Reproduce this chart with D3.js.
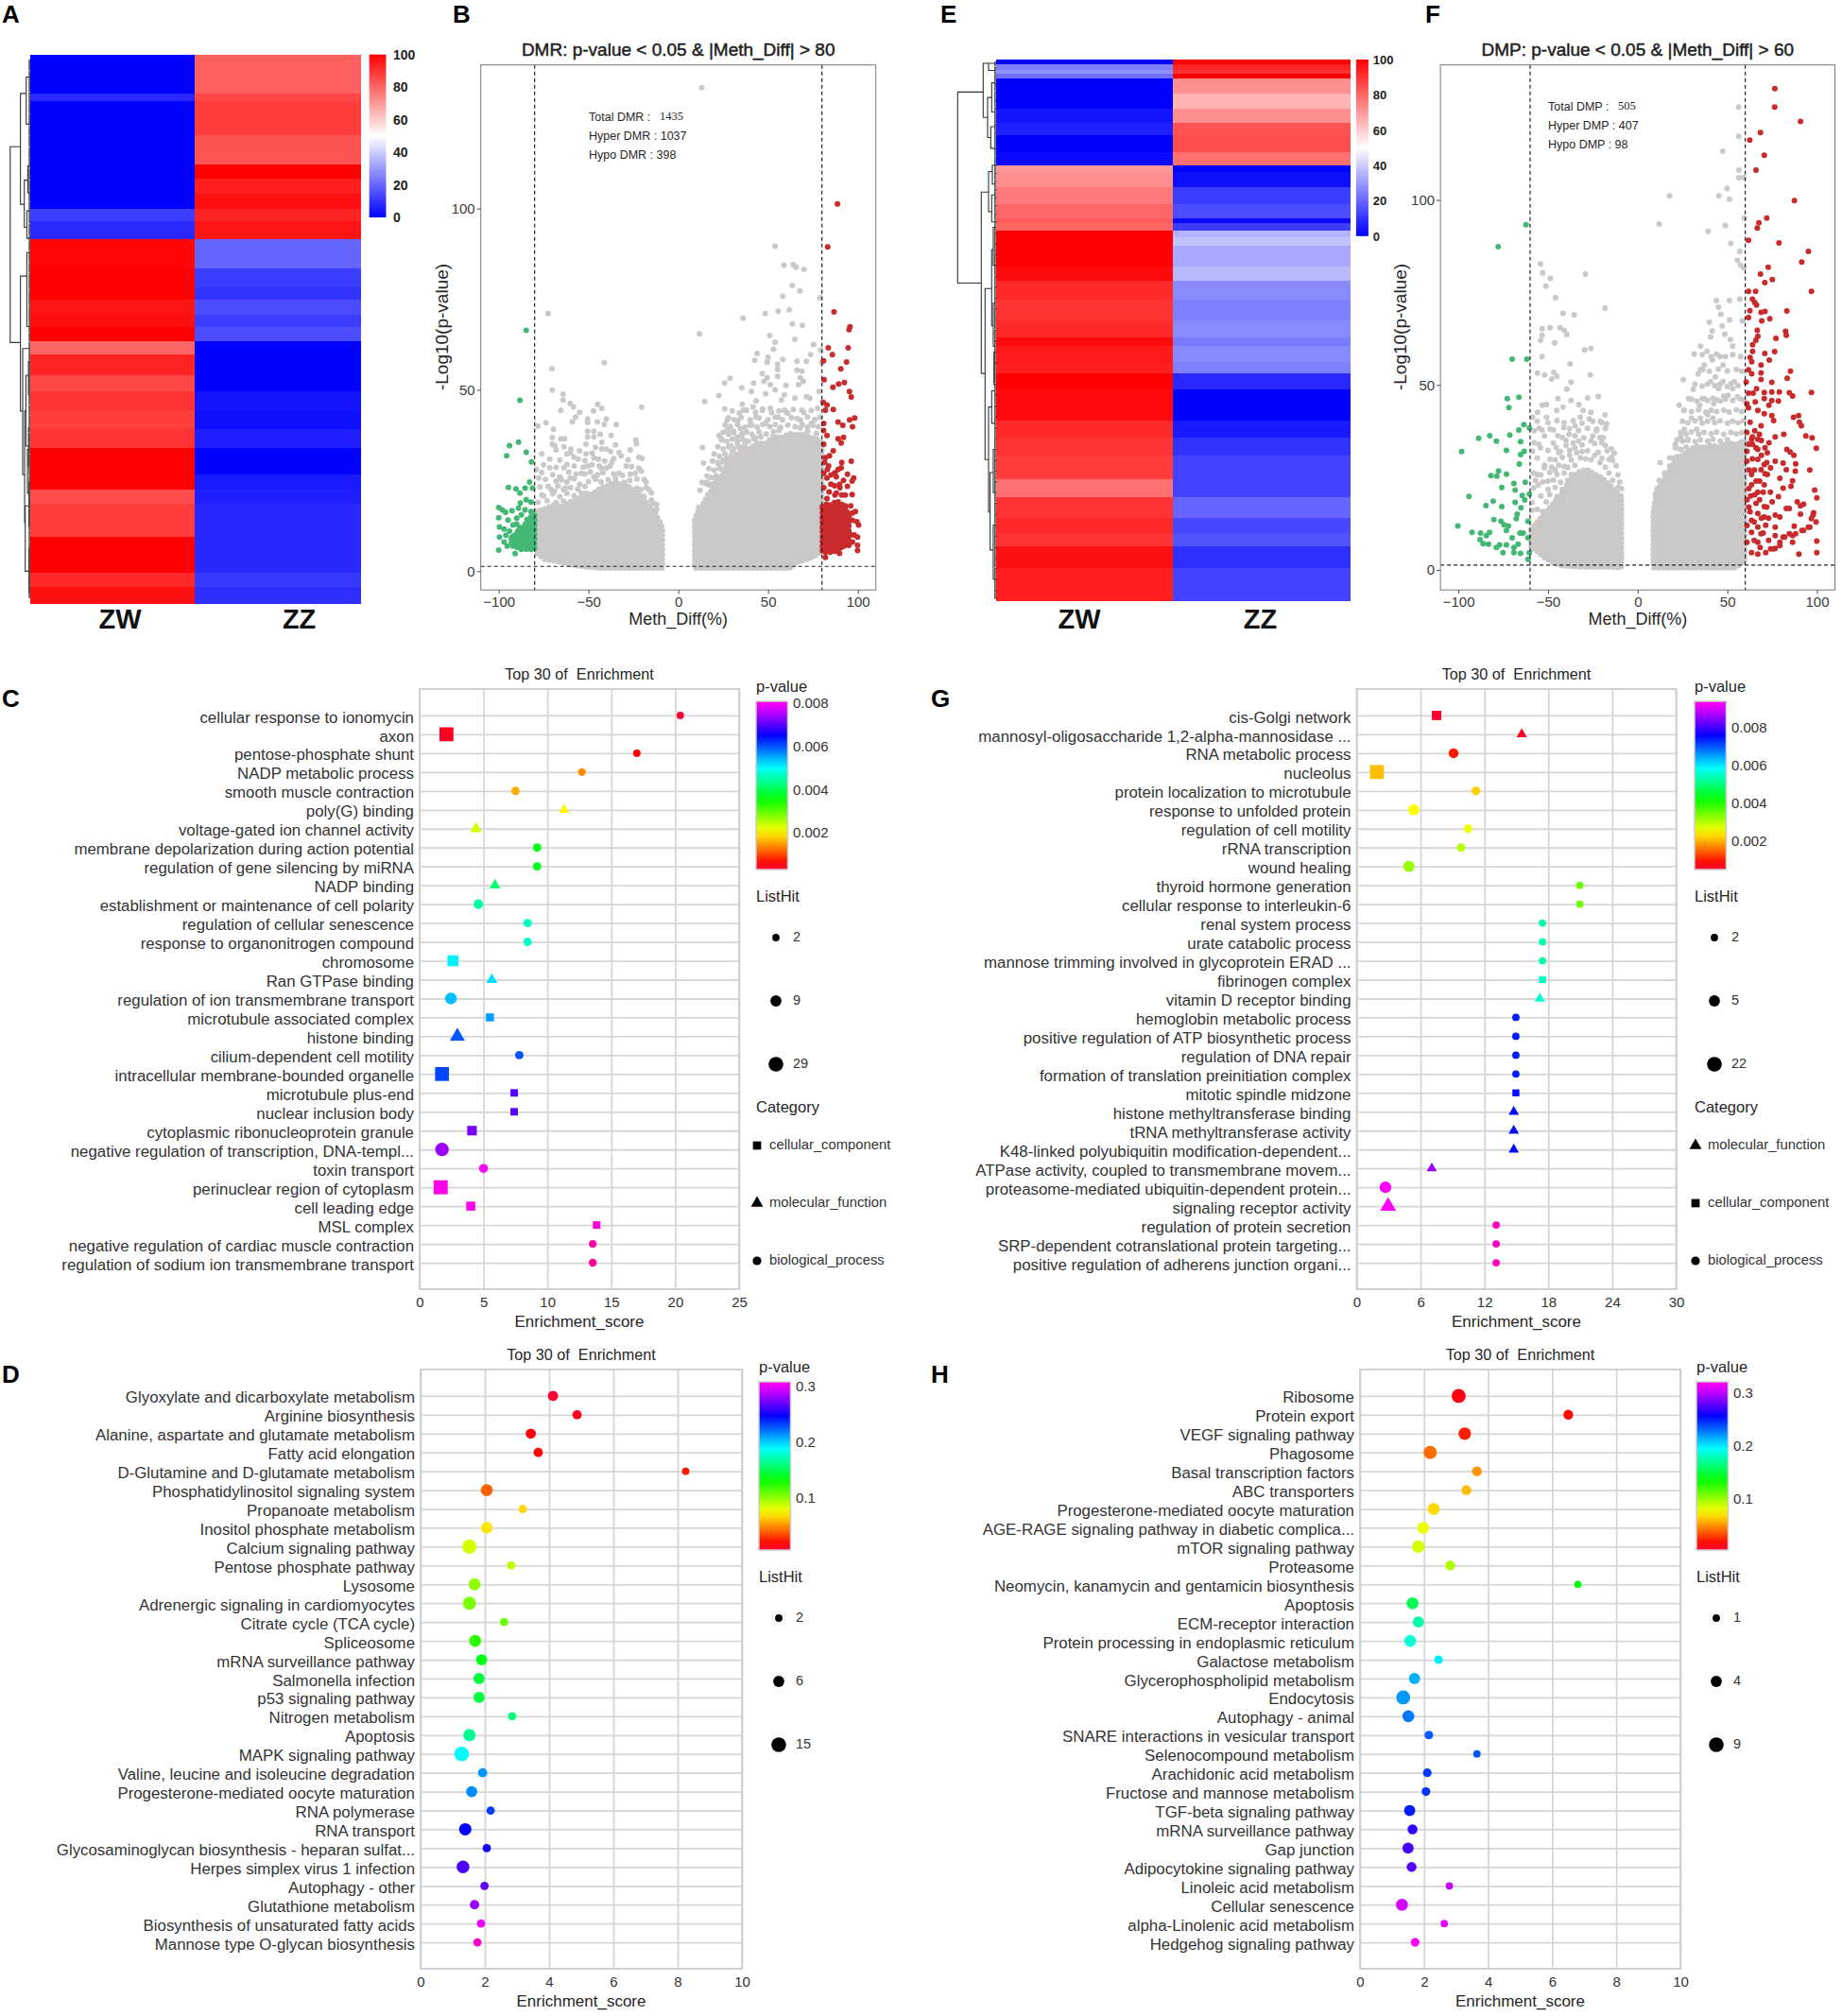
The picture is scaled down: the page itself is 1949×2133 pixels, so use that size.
<!DOCTYPE html>
<html>
<head>
<meta charset="utf-8">
<script src="https://cdn.jsdelivr.net/npm/d3@7"></script>
<style>
  body { margin: 0; background: #fff; }
  text { font-family: "Liberation Sans", Arial, sans-serif; fill: #262626; }
</style>
</head>
<body>
<svg id="chart" width="1949" height="2133"></svg>
<script>
// heatmap bands: rows in each band, mean methylation in ZW and ZZ
const heatRowsA = [94,18,82,70,35,35,37,28,45,70,45,30,35,30,35,30,50,40,45,45,45,65,35,35,80,85,35,38];
const heatZwA = [0,8,0,0,0,0,0,12,8,99,100,100,96,97,100,80,93,86,90,88,90,100,100,85,88,100,92,97];
const heatZzA = [81,86,88,84,100,94,97,93,96,20,12,10,15,12,15,0,0,0,4,3,6,0,5,6,8,8,11,9];
const heatRowsE = [12,13,10,11,36,35,35,30,40,33,14,38,40,35,10,18,17,20,50,35,45,50,40,20,40,27,38,75,40,45,55,45,50,35,32,53,78];
const heatZwE = [0,25,28,22,0,0,4,6,0,2,70,72,76,80,82,80,100,100,100,98,92,90,92,98,95,94,100,98,92,90,88,78,90,92,90,97,94];
const heatZzE = [100,93,90,100,72,65,72,84,85,78,0,3,12,15,2,12,35,38,33,36,27,25,27,24,27,25,8,0,5,10,13,13,20,14,16,9,13];
const heatTicks = [0,20,40,60,80,100];

// dendrogram merges: [height, rowA %, rowB %, child height A, child height B]
const mergesA = [
  [62,16.8,52.5,30,30],[30,7.1,27.3,12,18],[12,4.1,12.7,2,2],[18,22.9,31.5,7,10],[7,20.3,25.2,1,1],
  [10,28.5,33.5,2,2],[30,40.4,65,10,23],[10,36.1,49.6,1,1],[23,53.6,76.6,1,17],[17,65,85.3,13,15],
  [13,58.5,71.4,5,5],[5,56,62,1,1],[5,68,75,1,1],[15,82.3,94.2,3,3],[3,78,86,1,1],[3,90,98,1,1],[8,72,80,2,2]
];
const leafRowsA = [1,3,5,7,9,11,13,15,17,19,21,23,25,27,29,31,33,34,36,38,40,43,46,49,51,52.5,54,56,58,60,62,64,66,68,69,71,73,75,77,79,81,83,85,87,89,91,93,95,97,99];
const mergesE = [
  [123,6,41.3,42,48],[42,.7,10.7,25,28],[25,.7,2,3,3],[28,7,14.4,15,18],[15,4.3,9.7,5,5],[18,12.4,16.4,5,5],
  [48,24.5,58,25,36],[25,20.7,28.1,13,15],[13,19.5,23,3,3],[15,25,30,5,5],[36,42.3,73.9,15,25],
  [15,35.1,49.2,10,10],[10,31,38,3,3],[10,45,53,3,3],[25,64.2,83.6,15,20],[15,61.2,67.2,5,5],[20,76.3,90.6,10,10],
  [10,72,80,3,3],[10,86,96,3,3],[8,54,60,3,3]
];
const leafRowsE = [.5,1.5,3,4.5,6,7.5,9,10.5,12,13.5,15,16.5,18,19.5,21,22.5,24,25.5,27,28.5,30,32,34,36,38,40,42,44,46,48,50,52,54,56,58,60,62,64,66,68,70,72,74,76,78,80,82,84,86,88,90,92,94,96,98,99.5];

// volcano B, values as [Meth_Diff, -log10 p]
const grayPointsB = [
  [13,133.3],[-72.5,71],[-41.2,57.5],[-70.4,55.8],[-70.2,49.9],[-64.2,48.8],[-64.2,47.2],[-60.2,46.3],[-58.4,45.3],[-54.9,43.8],[-65.4,44.3],[-57.2,42.5],[-59,41.2],
  [-47.2,44.2],[-44.9,46],[-42.6,44.9],[-20.4,45.2],[-50.5,42],[-50.5,41],[-45.1,41.2],[-40,42],[-41.2,40.5],[-34.6,40.4],[-78.2,40],[-73.7,40.9],[-69.5,39.1],
  [-50.5,38.6],[-47,38.6],[-43.5,37.7],[-37.4,37.4],[-50.5,37],[-47,37],[-70.2,36.8],[-65.4,36.5],[-63.3,36.5],[-70.2,35],[-68.8,34.6],[-63.7,34.3],[-51.4,35],[-42.6,35.5],
  [-23.7,36.2],[-23.3,35.1],[-35,34.8],[-26.8,33.4],[-59.8,33.7],[-46.1,34.1],[-42.6,33.7],[-37.7,33],[-76,32.3],[-62,32.3],[-71.6,30.9],[-55.8,30.9],[-51.4,32.3],[-44.4,30.9],
  [-31.8,31.8],[-20.2,31.1],[-77.7,25.7],[-71.6,28.5],[-63.7,28.5],[-60.2,25.7],[-50.5,29],[-40,28.5],[-26.8,26.7],[-20.6,27.6],[-19,25.3],[-72.5,23.4],[-63,22.9],[-16.3,22.5],[-23,22.9],[-12,18.3],
  [-58,29],[-54,27],[-47,26],[-44,29],[-37,30],[-33,27],[-29,29],[-66,26],[-69,22],[-76,21],[-79,28],[-55,24],[-30,24.5],
  [-68,33.4],[-60,32.6],[-55,33.2],[-48,32.5],[-40,33.6],[-33,32.7],[-66,30.6],[-58,31.4],[-52,30.5],[-47,31.2],[-41,30.4],[-36,31],[-28,30.7],[-22,31.4],
  [-75,29.3],[-68,28.6],[-62,29.4],[-53,28.7],[-48,29.3],[-43,28.4],[-38,29],[-26,28.8],[-22,28.4],[-76,27.2],[-70,26.6],[-61,27.3],[-57,26.7],[-52,26.8],[-49,27.4],[-45,26.6],[-42,27.2],[-36,26.8],[-31,26.4],[-24,27],[-74,25.3],[-68,24.8],[-65,25.2],[-62,24.6],[-58,25.4],[-50,24.7],[-46,25.3],[-43,24.6],[-39,25.2],[-35,25.6],[-27,25],[-23,25.4],[-18,24.6],
  [-77,23.2],[-71,22.6],[-67,23.4],[-64,22.5],[-60,23],[-56,22.6],[-52,23.3],[-21,22.5],[-18,23],[-15,21.6],[-75,20.7],[-70,21.3],[-66,20.5],[-62,21.4],[-58,20.8],[-54,21.5],[-19,20.6],[-15,19.6],[-78,19],[-73,19.4],[-68,18.9],[-64,19.3],[-60,19],[-14,18.8],[-12,17],
  [53.9,89.6],[58.8,84.4],[64,84.5],[65.6,83.8],[70,83.2],[63.5,78.8],[67.7,77.3],[58.2,75.8],[78.9,75.4],[55.6,71.7],[61.8,72.1],[48.4,71],[36,69.7],[63.5,68.2],[69.1,67.8],[11.8,65.4],[50.9,65],[64.9,63.9],[53.9,63.1],[75.3,62.5],[53,61.2],[79.3,60.9],
  [43.9,60],[73.7,59.7],[50,59],[42.5,58.1],[49.5,57.6],[58.2,58.4],[66.1,57.9],[71.4,57.9],[79.8,57.5],[55.3,57],[46.8,54.5],[55.3,55.6],[66.1,55.4],[68.8,55.1],[49.5,53.3],[47.7,52.3],[55.3,53.7],[67.9,53.3],[69.6,52.3],[28.8,53.2],[25.8,51.9],
  [41.9,51.9],[35.4,50.6],[51.2,51.4],[60,51.2],[67,51.4],[40.7,49.5],[22.6,48.4],[48.6,48.9],[53.9,50],[59.1,48.6],[71.4,48.1],[78.4,49.5],[14.7,46.8],[43.3,46.9],[57.4,47.2],[64.9,47.7],[73.2,47.7],[35.6,46],[25.8,44.7],[36.3,44.4],[41.6,45.3],[46.8,44.4],[51.2,44.9],[59.1,44.4],[68.8,44.4],[77.5,44.9],
  [43.3,42.5],[60.9,43.5],[66.1,42.1],[27.2,41.6],[33.2,41.6],[74,40.7],[48.6,40.7],[55.6,42.5],[34.6,39.3],[39.8,40.2],[27.5,39],[30.7,38.6],[22.6,37.4],[24,36.2],[32.8,36.9],[13.5,34.1],[29.3,34.6],[14,29.8],[26.7,30.9],[22.3,29.5],[20.5,25.7],[13.2,24.5],[16.1,24.5],[12.1,22.3],[11.4,17.6],
  [36,38],[30,33],[33,35],[28,28],[24,30],[17,21],[19,24],[42,36.5],[37,36],[72,38.5],[77,38],[68,39.5],
  [30,44.2],[34,43.6],[38,44.4],[43,43.8],[47,44.7],[52,43.7],[56,44.2],[60,43.9],[64,44.6],[70,43.7],[74,44.3],[28,42.3],[31,41.8],[35,42.4],[40,41.7],[45,42.2],[50,41.8],[54,42.4],[58,41.7],[63,42.3],[68,41.7],[72,42.5],[76,41.8],[79,42.4],
  [26,40.3],[29,39.8],[33,40.4],[37,39.7],[41,40.3],[44,39.7],[47,40.5],[51,39.8],[54,40.4],[57,39.6],[61,40.3],[65,39.8],[69,40.4],[72,39.7],[75,40.2],[78,39.8],[25,38.3],[28,37.7],[31,38.2],[35,37.6],[38,38.4],[41,37.7],[45,38.3],[49,37.8],[53,38.4],[56,38.8],
  [24,36.6],[27,35.8],[30,36.4],[33,35.7],[36,36.3],[39,35.8],[43,36.7],[46,37],[22,34.3],[25,33.7],[28,34.3],[31,33.7],[34,34.2],[37,34.6],[20,32.3],[23,31.7],[26,32.3],[29,31.6],[32,32.2],[19,30.4],[22,30],[25,30.5],[28,30],[17,28.3],[20,27.8],[23,28.3],[16,26.2],[18,25.8],[21,26.3],[15,24.2],[17,23.8],[19,23.2]
];
const greenPointsB = [
  [-84.7,66.4],[-88.2,47.1],[-94,34.6],[-89,35.6],[-95.6,31.8],[-84.7,32.8],[-81.8,30.1],[-94.6,23.1],[-90.4,22.7],[-85.3,22.9],[-82.8,24.6],[-88.2,21.5],[-81.2,22.9],[-84.7,19.7],[-82,19],
  [-100,17.5],[-98,16.9],[-96.2,16.2],[-92.6,16.6],[-89,17.4],[-85.3,16.9],[-82,16.4],[-100,14.7],[-94.8,14.1],[-90,14.6],[-87.4,15.5],[-81.2,14.6],[-99.6,12.2],[-97,11.6],[-92,12.7],[-99.6,9.4],[-96,9.9],[-92.6,9.4],[-100,5.8],[-95.3,6.9],[-90.9,4.8],[-87.4,6],[-92.3,7.6],[-83,6.2],
  [-88,18.8],[-90,13],[-86,12],[-83,13],[-94,11],[-97,8]
];
const redPointsB = [
  [88.6,101.3],[83.2,89.4],[86.7,71.5],[95.6,67.4],[95.1,66.6],[83.5,61.6],[94.6,61.6],[85.8,59.7],[80.9,58],[93.7,57.7],[90.5,55.8],[81.2,52.8],[86.1,50.7],[89.3,51.6],[92.5,52],[95.3,49.5],[96.3,48],[80.7,46.5],[82.8,45.8],[81.9,44.4],[86.3,44.6],[98.2,42.2],[95.4,41.7],[89,41.1],[91.6,40.2],[97,39.8],[81,40.7],[80.9,38.8],[82.8,37.4],[89,36.5],[92,36.9],[90.7,35.3],[86.3,33.2],[81,35],[81.9,31.3],[84.2,31.8],[96.3,30.3],[90.7,28.5],[97.7,25.7],[94.2,26.7],[87.2,27.1],[83.7,29],[82.8,25.7],[96.8,24.8],[81,23],[89.8,23.9],[94.2,23.4],[96.8,21.1],[82.8,20],[87.2,21],[98.6,16.4],[99.5,13.6],[100.4,12.7],[99.8,9.4],[99.8,7.1],[99.8,5.7],[89.8,4.9],[81.9,3.8],[95,7.1],[90.7,6.5],
  [91,30],[88,26],[92,25],[85,24],[91,21],[96,18],[93,18],[97,14],[94,12],[98,10],[81.5,30],[83,28],[85,26.5],[89,28],[87,23.5],[84,21.8],[90,23],[93,21],[88,21.5],[81,27],[95,15],[97,16],[96,10],[94,8.5],[97,8],[92.5,7]
];
const grayMassB = [
  [-79.5,16.5,5.2],[-74.2,17.2,3.2],[-69,18.3,2.8],[-65.4,17.6,2.4],[-60,19.2,1.8],[-56.7,19.6,1.5],[-52,21.5,1.2],[-47.9,21.2,1],[-43,23,.8],[-39.1,23.6,.8],[-35,24.6,.8],[-32.1,24,.8],[-28,23.6,.8],[-25.1,22.4,.8],[-21,20.8,.8],[-18.1,19.2,.8],[-15,17.6,.8],[-12.8,16,.8],[-10.2,13.6,.8],[-8.8,11.7,.8]
];
const grayMassB2 = [
  [9.1,14.1,.8],[11,16.6,.8],[13.5,18.3,.8],[16,20.8,.8],[18.8,22.5,.8],[21,25.2,.8],[24,26.2,.8],[27,29.6,.8],[31,30.6,.8],[35,33.4,.8],[39.8,33.8,.8],[44,35.4,.8],[48.6,35.2,.8],[53,37.2,.8],[57.4,36.8,.8],[62,38,.8],[66.1,37.6,2.4],[70,37.8,3],[73.2,36.8,3.5],[77,36.6,4.4],[80,35.4,5.2]
];
const greenMassB = [[-93,9,7],[-90,10.5,6.5],[-88,12.5,6.5],[-86,12,6.2],[-84,14.5,6],[-80,15.5,6]];
const redMassB = [[80.2,17.8,5.2],[83,18.6,5.2],[85.4,18.2,5.2],[88,19.4,5.6],[90.7,18.6,6.6],[93,17.6,7.2],[95,15.4,8]];

// volcano F
const grayPointsF = [
  [56.3,125.1],[56.3,117.2],[47.4,113.2],[56.5,108.1],[56.5,106],[59,106],[49.8,103.1],[45.3,101.1],[51.2,100.2],[17.8,101.1],[12,93.5],[48.9,93.1],[59.5,95.1],[39.3,91.5],[51.9,88.3],[56.9,86.1],[55.6,83.7],[57.4,82.4],[59.2,81.6],
  [-54.2,82.7],[-53,80.3],[-48.6,78.8],[-51.2,76.7],[-29.1,80],[-45.8,73.6],[-18.2,70.8],[-41.6,69.4],[-35.4,68.9],[-53.3,65.2],[-48.9,65.5],[-43.3,65.5],[-41,64.8],[-39.5,63.6],[-53.3,63.4],[-54.2,62.1],[-46.3,61.4],[-29.6,59.5],[-26.1,59.9],[-53.3,57.7],[-37.7,55.7],[-55.9,53.2],[-51.9,52.7],[-46.8,53.4],[-45.1,52.4],[-48,51.6],[-26.5,52.7],[-37.2,50.7],[-39.5,48.9],[-22,46.9],[-44.5,46.3],[-37.2,45.8],[-27.9,46.5],[-50.8,44.7],[-53.3,44.5],[-55.9,42.6],[-58.6,41.3],[-41.6,44],[-45.1,43.1],[-50.8,41.3],[-32.8,44.7],[-30.4,43.1],[-26.1,42.6],[-32,41.3],[-18.2,41.9],[-27,40.8],[-20.8,40.2],[-17.3,39.5],[-22.8,38.1],[-41.2,38.5],[-34.9,39],[-57.7,37.6],[-53.3,37.8],[-48.9,38.1],[-44.5,36.3],[-38.3,36.7],[-19.1,35.8],[-26.1,34.9],[-57.7,34.4],[-33,34.9],[-20,34.4],[-14.7,32.8],[-54.2,33],[-45.4,33],[-58.6,32.1],[-48.9,29.9],[-16,29.9],[-14.5,30.5],[-41,28],[-56,25.8],[-52,27.6],[-55.5,23],
  [-43,32],[-38,31],[-35,33],[-31,32],[-29,30],[-24,31],[-21,29],[-40,35],[-46,27],[-50,24],
  [-56,40.2],[-50,39.8],[-45,40.4],[-41,39.8],[-36,40.3],[-31,39.7],[-25,40.2],[-20,39.8],[-55,38.3],[-47,37.8],[-38,38.2],[-33,37.7],[-28,38.3],[-23,37.6],[-18,38.2],[-52,36.2],[-42,35.8],[-35,36.3],[-30,35.7],[-25,36.2],[-21,35.8],[-55,34],[-47,34.3],[-40,33.7],[-36,34.3],[-31,33.8],[-24,34.2],[-18,33.7],
  [-50,32.3],[-44,31.7],[-38,32.3],[-34,31.7],[-28,32.2],[-22,31.8],[-17,32.2],[-13,31.6],[-56,30.3],[-46,29.8],[-42,30.4],[-37,29.7],[-32,30.3],[-26,29.8],[-20,30.2],[-14,29.6],[-52,28.3],[-48,27.8],[-44,28.3],[-39,27.7],[-35,28.3],[-18,27.8],[-12,28.2],[-58,26.2],[-54,25.7],[-49,26.3],[-45,25.8],[-41,26.2],[-37,25.8],[-16,26.2],[-11,25.7],[-57,24.2],[-53,23.8],[-47,24.3],[-43,23.7],[-39,24.2],[-14,24.2],[-10,23.8],[-58,22.2],[-50,21.8],[-46,22.3],[-42,21.8],[-11,22.3],[-9,22],[-54,20],[-49,20.4],[-45,19.8],[-59,18.2],[-51,18.4],[-59,16.2],[-56,16.4],[-53,15.8],
  [25.4,51.4],[23.1,44.5],[12.6,29],[17.8,30.3],[21.4,33],[43.9,72.8],[45.1,71],[51.2,72.8],[57,73.2],[46.4,69.1],[51.2,67.6],[58.3,67.3],[40,67],[41.5,64.6],[47.1,65.9],[48.6,63.7],[40.7,63],[51.7,62.3],[35.1,60.5],[31.5,58.4],[38.6,59.1],[46,57.7],[53,60.5],[57.4,57.7],[37.1,55.4],[41.6,56.8],[47.6,55.4],[33.7,53],[36.3,54.1],[43.3,52.2],[47.6,50.9],[53.9,50.9],[31,48.8],[40.7,50.9],[45.2,49],[55.6,46.8],[28.4,46.3],[37.2,46.3],[25.7,43.1],[34.5,44.5],[42.4,44.9],[50.4,47.2],[59.1,45.9],
  [30,41],[33,38],[26,38],[28,35],[24,36],[39,42],[44,46],[48,47],[35,41],[21,34],[42,41],[53,49],
  [36,58.2],[41,57.6],[44,58.3],[49,57.7],[53,58.2],[35,54.2],[40,53.7],[45,54.3],[50,53.8],[55,54.2],[58,53.7],[32,50.2],[36,49.7],[39,50.3],[43,49.8],[46,50.2],[50,49.6],[52,50.4],[56,49.8],[30,46.2],[33,45.7],[36,46.3],[39,45.8],[42,46.4],[46,45.7],[49,46.2],[53,45.8],[57,46.3],
  [26,43.2],[30,42.8],[34,43.3],[38,42.7],[41,43.2],[44,42.8],[48,43.2],[51,42.7],[55,43.3],[58,42.8],[25,40.2],[28,39.8],[32,40.3],[36,39.7],[39,40.2],[43,39.8],[46,40.3],[50,39.7],[53,40.2],[56,39.8],[59,40.3],[24,37.2],[27,36.8],[30,37.3],[34,36.7],[37,37.2],[41,36.8],[44,37.3],[48,36.7],[52,37.2],[55,36.8],[58,37.2],
  [22,35.2],[25,34.8],[28,35.3],[32,34.7],[35,35.2],[39,34.8],[42,35.3],[46,34.8],[50,35.2],[21,33],[24,32.6],[27,33.2],[20,30.2],[23,29.8],[18,28.2],[21,27.8],[15,26.2],[17,25.8],[12,24.2],[14,23.8],[11,21.2],[10,20.6]
];
const greenPointsF = [
  [-62.3,93.3],[-77.8,87.4],[-70,57],[-61.8,57],[-72.7,46.3],[-66.2,46.7],[-71.8,43.9],[-63.5,39.3],[-60.4,38.4],[-66.3,37.8],[-71.3,36.5],[-82.5,36.3],[-88.7,35.6],[-78.8,34.8],[-65.3,34.7],[-98.2,32],[-73.2,32.3],[-63.3,32.1],[-65.3,31.2],[-66,28.6],[-77.6,26.8],[-73.2,25.9],[-78.5,25.4],[-81.8,25.5],[-69,23.4],[-62.7,23.7],[-75.8,22.3],[-68.3,21.6],[-60.4,20.5],[-94.1,19.9],[-64.4,20.1],[-63,18.9],[-80.6,18.6],[-68.3,18.3],[-84.6,17.4],[-75.8,17.1],[-65.1,16.8],[-67.2,15.1],[-67.7,13.9],[-80.2,13.6],[-76.2,13.2],[-61.2,13.2],[-100.3,11.9],[-74.5,12.2],[-72.1,11.9],[-73.2,10.7],[-92.4,10.2],[-87.6,10],[-82.6,10.2],[-84.4,9.3],[-65.6,10],[-63.9,10],[-70,8.7],[-87.9,8.2],[-61.2,8.7],[-86.2,7.1],[-83.2,7],[-78.8,6.1],[-77,6.8],[-73.2,6.8],[-75.1,4.7],[-69,6.1],[-66.7,7],[-69,4.7],[-65.3,4.5],[-60.4,4.7],[-61.2,2.9]
];
const redPointsF = [
  [76.5,130.1],[76.4,125.1],[90.8,121.2],[68.5,118.2],[62.5,116.2],[70.6,112.1],[66,108.1],[87.4,99.8],[72,95.1],[67.6,93.8],[66.7,92.4],[61.8,89.1],[78.8,88.4],[95.2,86.1],[91.5,83.2],[72.8,81.8],[68.5,80],[75.1,78.5],[70.9,77.7],[61.8,75.3],[65.8,75.3],[96.9,75.3],[64,73.2],[65.3,72.3],[66.3,71.6],[83.2,70],[62.6,70.1],[68.8,69.6],[71,69.9],[61.8,68.2],[73.7,67.9],[69.2,67.3],[66.7,64.8],[82.5,64.5],[82.9,63.4],[67,63.2],[77.1,62.6],[65.9,62.1],[64.1,60.9],[64.1,59.1],[76.4,59],[70.9,58.5],[62.7,57.4],[63.6,56.3],[73.4,56.7],[68.8,55.4],[61.8,54.1],[68.8,53.3],[63.6,53],[85.2,53.7],[83.4,51.8],[68.8,51.5],[60.5,50.8],[74.8,50.7],[66.3,49],[70.6,48],[79,48.1],[61.8,47.8],[64.4,47.8],[74.8,48.1],[84.6,47.9],[86.4,47],[96.9,48],[70.6,46.3],[78.5,45.7],[60.9,44.9],[65.6,45.4],[74.8,45.8],[73.2,44.5],[67,43.1],[61.8,43.8],[70.6,42.2],[74.8,41.7],[89.7,41.7],[86.9,41.3],[75.8,40.4],[62.7,39.9],[90.2,39.9],[91.3,39],[68.8,39],[65.3,37.6],[67.9,36.7],[60.9,37.2],[81.5,36.7],[93.8,36.2],[97.3,35.7],[76.7,36],[63.5,35.3],[67,35.3],[73.2,34.4],[67,32.6],[99.6,32.9],[83.2,32.6],[85,31.9],[72.3,31.7],[60.9,32.1],[87.1,31],[76.7,29.4],[81.1,28.9],[88.1,28.7],[67,29.9],[60.9,29.4],[70.6,28.5],[96,27],[87.9,26.7],[82.9,27.1],[74.1,27.6],[68.8,27.1],[63.5,25.8],[72.3,25.8],[79.3,24.8],[86.4,24.1],[98.7,21.6],[81.1,22.1],[85.5,22.6],[70.6,23],[63.5,23],[65.3,20.3],[78.5,19.8],[75,18.4],[99.9,19.5],[89,18.4],[92.5,17.8],[90.8,17.3],[82.9,16.6],[70.6,17.1],[84.6,16.6],[62.7,15.7],[67,15.3],[70.6,14.3],[76.7,14.8],[79.3,14.3],[98.1,15.5],[90.8,15.1],[96.9,13.9],[99.5,13],[87.3,11.8],[95.2,11.6],[92.5,10.7],[88.1,9.8],[84.6,9.8],[63.5,13.4],[67,11.6],[71.4,12.1],[76.7,11.6],[63.5,10.2],[68.8,9.8],[76.7,9.3],[81.1,8.9],[79.3,7.5],[86.4,7.5],[60.9,7.5],[67,7.5],[68.3,6.1],[74.1,5.7],[76.7,5.8],[63.5,4.7],[71.4,4.7],[67,4.3],[89.9,4.3],[99.9,7.8],[99.9,4.7],
  [75.8,5.7],[79.3,6.6],[82,8.9],[86.4,9.3],[91.6,10.7],[96,11.6],[97.8,14.8],
  [65,27],[66,24],[69,31],[71,26],[64,30],[68,24],[72,29],[66,33],[69,35],[64,36],[62,34],[66,18],[63,20],
  [61,19],[62,22],[65,13],[69,14],[73,14],[74,21],[72,17],[61,12],[65,8],[70,10],[73,8],[68,19],[62,17],[64,34],[71,33],[62,27],[70,21],[67,21]
];
const grayMassF = [[-59.5,11,6.1],[-56,13,5],[-52.5,15,3.4],[-47,18,2],[-41.9,21,1.1],[-37,25,1],[-33.1,26.5,.8],[-28,27.2,.8],[-24.3,26,.8],[-20,25,.8],[-15.6,23,.8],[-12,21,.7],[-9,20,.6]];
const grayMassF2 = [[8.7,15.7,.6],[10.8,22,.6],[13,23,.6],[16.1,26,.6],[19,28,.6],[21.4,30.6,.6],[25,31,.6],[28.4,32.5,.6],[33,33.5,.6],[37.2,33,.6],[41,33.8,.6],[46,33.2,.6],[50,34.5,.6],[54.7,34,.6],[59.7,35,2.5]];

// enrichment panel C
const termsC = ["cellular response to ionomycin","axon","pentose-phosphate shunt","NADP metabolic process","smooth muscle contraction","poly(G) binding","voltage-gated ion channel activity","membrane depolarization during action potential","regulation of gene silencing by miRNA","NADP binding","establishment or maintenance of cell polarity","regulation of cellular senescence","response to organonitrogen compound","chromosome","Ran GTPase binding","regulation of ion transmembrane transport","microtubule associated complex","histone binding","cilium-dependent cell motility","intracellular membrane-bounded organelle","microtubule plus-end","nuclear inclusion body","cytoplasmic ribonucleoprotein granule","negative regulation of transcription, DNA-templ...","toxin transport","perinuclear region of cytoplasm","cell leading edge","MSL complex","negative regulation of cardiac muscle contraction","regulation of sodium ion transmembrane transport"];
const scoresC = [20.4,2.1,17,12.7,7.5,11.3,4.4,9.2,9.2,5.9,4.6,8.45,8.45,2.6,5.65,2.45,5.5,2.95,7.8,1.75,7.4,7.4,4.1,1.75,5,1.65,4,13.85,13.55,13.55];
const pvalsC = [.0003,.0004,.0006,.0014,.0016,.002,.0023,.0037,.0037,.0042,.0045,.0047,.0047,.0051,.0052,.0054,.0056,.006,.006,.0061,.007,.007,.0072,.0074,.008,.0081,.0081,.0082,.0085,.0086];
const hitsC = [2,29,2,3,4,2,4,4,4,3,6,4,4,11,3,12,4,8,4,28,3,3,7,22,5,29,6,3,3,3];
const catsC = "c s c c c t t c c t c c c s t c s t c s s s s c c s s s c c".split(" ");

// panel G
const termsG = ["cis-Golgi network","mannosyl-oligosaccharide 1,2-alpha-mannosidase ...","RNA metabolic process","nucleolus","protein localization to microtubule","response to unfolded protein","regulation of cell motility","rRNA transcription","wound healing","thyroid hormone generation","cellular response to interleukin-6","renal system process","urate catabolic process","mannose trimming involved in glycoprotein ERAD ...","fibrinogen complex","vitamin D receptor binding","hemoglobin metabolic process","positive regulation of ATP biosynthetic process","regulation of DNA repair","formation of translation preinitiation complex","mitotic spindle midzone","histone methyltransferase binding","tRNA methyltransferase activity","K48-linked polyubiquitin modification-dependent...","ATPase activity, coupled to transmembrane movem...","proteasome-mediated ubiquitin-dependent protein...","signaling receptor activity","regulation of protein secretion","SRP-dependent cotranslational protein targeting...","positive regulation of adherens junction organi..."];
const scoresG = [7.5,15.5,9.1,1.9,11.2,5.35,10.45,9.8,4.9,20.95,20.95,17.45,17.45,17.45,17.45,17.2,14.95,14.95,14.95,14.95,14.95,14.75,14.75,14.75,7.05,2.7,2.95,13.1,13.1,13.1];
const pvalsG = [.0005,.0006,.001,.0021,.0022,.0025,.0026,.003,.0032,.0035,.0035,.0053,.0053,.0053,.0055,.0056,.0074,.0074,.0074,.0074,.0075,.0075,.0075,.0075,.0086,.0093,.0093,.0097,.0097,.0097];
const hitsG = [4,2,4,22,3,5,3,3,5,2,2,2,2,2,2,2,2,2,2,2,2,2,2,2,2,7,6,2,2,2];
const catsG = "s t c s c c c c c c c c c c s t c c c c s t t t t c t c c c".split(" ");

// panel D
const termsD = ["Glyoxylate and dicarboxylate metabolism","Arginine biosynthesis","Alanine, aspartate and glutamate metabolism","Fatty acid elongation","D-Glutamine and D-glutamate metabolism","Phosphatidylinositol signaling system","Propanoate metabolism","Inositol phosphate metabolism","Calcium signaling pathway","Pentose phosphate pathway","Lysosome","Adrenergic signaling in cardiomyocytes","Citrate cycle (TCA cycle)","Spliceosome","mRNA surveillance pathway","Salmonella infection","p53 signaling pathway","Nitrogen metabolism","Apoptosis","MAPK signaling pathway","Valine, leucine and isoleucine degradation","Progesterone-mediated oocyte maturation","RNA polymerase","RNA transport","Glycosaminoglycan biosynthesis - heparan sulfat...","Herpes simplex virus 1 infection","Autophagy - other","Glutathione metabolism","Biosynthesis of unsaturated fatty acids","Mannose type O-glycan biosynthesis"];
const scoresD = [4.12,4.87,3.43,3.66,8.25,2.06,3.18,2.06,1.52,2.82,1.68,1.52,2.6,1.7,1.9,1.82,1.82,2.85,1.52,1.28,1.93,1.59,2.18,1.39,2.06,1.32,1.99,1.68,1.88,1.77];
const pvalsD = [.008,.012,.016,.02,.024,.04,.066,.07,.085,.09,.1,.105,.11,.123,.137,.145,.147,.16,.165,.19,.213,.215,.233,.247,.25,.263,.268,.28,.3,.315];
const hitsD = [5,4,5,4,2,8,3,7,14,3,8,11,3,8,6,6,6,3,9,15,4,6,3,9,3,10,3,4,3,3];

// panel H
const termsH = ["Ribosome","Protein export","VEGF signaling pathway","Phagosome","Basal transcription factors","ABC transporters","Progesterone-mediated oocyte maturation","AGE-RAGE signaling pathway in diabetic complica...","mTOR signaling pathway","Proteasome","Neomycin, kanamycin and gentamicin biosynthesis","Apoptosis","ECM-receptor interaction","Protein processing in endoplasmic reticulum","Galactose metabolism","Glycerophospholipid metabolism","Endocytosis","Autophagy - animal","SNARE interactions in vesicular transport","Selenocompound metabolism","Arachidonic acid metabolism","Fructose and mannose metabolism","TGF-beta signaling pathway","mRNA surveillance pathway","Gap junction","Adipocytokine signaling pathway","Linoleic acid metabolism","Cellular senescence","alpha-Linolenic acid metabolism","Hedgehog signaling pathway"];
const scoresH = [3.08,6.5,3.27,2.19,3.65,3.32,2.3,1.97,1.82,2.81,6.8,1.64,1.82,1.57,2.45,1.7,1.35,1.51,2.15,3.65,2.1,2.06,1.55,1.64,1.5,1.61,2.79,1.31,2.63,1.72];
const pvalsH = [.01,.017,.022,.04,.05,.06,.066,.08,.085,.094,.137,.155,.175,.185,.2,.215,.22,.228,.235,.237,.243,.245,.25,.268,.274,.277,.303,.306,.313,.32];
const hitsH = [8,3,6,7,3,3,5,5,6,3,1,5,4,5,2,4,8,5,2,1,2,2,4,3,4,3,1,5,1,2];

const svg = d3.select('#chart');
const heatColor = d3.scaleLinear().domain([0, 50, 100]).range(['#0000ff', '#ffffff', '#ff0000']);
const GRAY = '#cbc8c8', GREEN = '#43b874', RED = '#c92a2c';

function panelLetter(label, x, y) {
  svg.append('text').attr('x', x).attr('y', y).text(label)
    .style('font-size', '26px').style('font-weight', 'bold').style('fill', '#000');
}

function drawHeatmap({ x0, xMid, x1, y0, y1, rows, zw, zz, bar, barLabelX, barFont, merges, leaves, dendroLeft, dendroMax, gid, labelX }) {
  const total = d3.sum(rows);
  const y = d3.scaleLinear().domain([0, total]).range([y0, y1]);
  const pct = d3.scaleLinear().domain([0, 100]).range([y0, y1]);
  const h = d3.scaleLinear().domain([0, dendroMax]).range([x0, dendroLeft]);
  const cum = d3.cumsum(rows);
  const g = svg.append('g').attr('shape-rendering', 'crispEdges');

  rows.forEach((r, i) => {
    const top = y(cum[i] - r);
    const bandH = y(cum[i]) - top + 0.5;
    g.append('rect').attr('x', x0).attr('y', top).attr('width', xMid - x0).attr('height', bandH).attr('fill', heatColor(zw[i]));
    g.append('rect').attr('x', xMid).attr('y', top).attr('width', x1 - xMid).attr('height', bandH).attr('fill', heatColor(zz[i]));
  });

  // dendrogram
  const dg = svg.append('g').attr('fill', 'none').attr('stroke', '#333').attr('stroke-width', 1.1);
  merges.forEach(([ht, a, b, ca, cb]) => {
    dg.append('path').attr('d', `M${h(ca)},${pct(a)}H${h(ht)}V${pct(b)}H${h(cb)}`);
  });
  leaves.forEach((p, i) => {
    const next = leaves[i + 1] === undefined ? p : leaves[i + 1];
    dg.append('path').attr('stroke-width', 1.4)
      .attr('d', `M${h(0)},${pct(p)}H${h(dendroMax * 0.035)}V${pct(next) - 1}`);
  });

  // colour bar
  const barY = d3.scaleLinear().domain([0, 100]).range([bar.y1, bar.y0]);
  const defs = svg.append('defs').append('linearGradient').attr('id', gid)
    .attr('x1', 0).attr('x2', 0).attr('y1', 1).attr('y2', 0);
  [0, 50, 100].forEach(v => defs.append('stop').attr('offset', `${v}%`).attr('stop-color', heatColor(v)));
  svg.append('rect').attr('x', bar.x0).attr('y', bar.y0).attr('width', bar.x1 - bar.x0)
    .attr('height', bar.y1 - bar.y0).attr('fill', `url(#${gid})`);
  heatTicks.forEach(t => {
    svg.append('text').attr('x', barLabelX).attr('y', barY(t) + 5).text(t)
      .style('font-size', barFont).style('font-weight', 'bold').style('fill', '#222');
  });

  // group labels
  ['ZW', 'ZZ'].forEach((s, i) => {
    svg.append('text').attr('x', labelX[i]).attr('y', 665).attr('text-anchor', 'middle').text(s)
      .style('font-size', '29px').style('font-weight', 'bold').style('fill', '#111');
  });
}

function drawVolcano({ left, right, top, bottom, yDomain, cut, title, titleY, grayMass, grayPoints, greenMass, greenPoints, redMass, redPoints, notes, noteX, noteY, numX, yLabelX }) {
  const x = d3.scaleLinear().domain([-110, 110]).range([left, right]);
  const y = d3.scaleLinear().domain(yDomain).range([bottom, top]);
  const g = svg.append('g');
  const area = d3.area().x(d => x(d[0])).y0(d => y(d[2])).y1(d => y(d[1]));

  const dots = (pts, color) => g.append('g').attr('fill', color).selectAll('circle').data(pts).join('circle')
    .attr('cx', d => x(d[0])).attr('cy', d => y(d[1])).attr('r', 3);
  // solid part of a cloud, edge drawn as a chain of dots so it stays bumpy
  const mass = (rows, color) => g.append('path').datum(rows).attr('d', area).attr('fill', color)
    .attr('stroke', color).attr('stroke-width', 5.8).attr('stroke-linecap', 'round').attr('stroke-dasharray', '0 5');

  grayMass.forEach(m => mass(m, GRAY));
  dots(grayPoints, GRAY);
  if (greenMass) mass(greenMass, GREEN);
  dots(greenPoints, GREEN);
  if (redMass) mass(redMass, RED);
  dots(redPoints, RED);

  [-cut, cut].forEach(v => g.append('line').attr('x1', x(v)).attr('x2', x(v)).attr('y1', top).attr('y2', bottom)
    .attr('stroke', '#222').attr('stroke-width', 1.2).attr('stroke-dasharray', '4 3'));
  g.append('line').attr('x1', left).attr('x2', right).attr('y1', y(1.3)).attr('y2', y(1.3))
    .attr('stroke', '#222').attr('stroke-width', 1.2).attr('stroke-dasharray', '4 3');

  g.append('rect').attr('x', left).attr('y', top).attr('width', right - left).attr('height', bottom - top)
    .attr('fill', 'none').attr('stroke', '#777').attr('stroke-width', 1);

  const ax = g.append('g').attr('transform', `translate(0,${bottom})`).call(d3.axisBottom(x).tickValues([-100, -50, 0, 50, 100]).tickSize(4).tickPadding(3));
  const ay = g.append('g').attr('transform', `translate(${left},0)`).call(d3.axisLeft(y).tickValues([0, 50, 100]).tickSize(4).tickPadding(2));
  [ax, ay].forEach(a => {
    a.select('.domain').remove();
    a.selectAll('text').style('font-size', '15px').style('font-family', '"Liberation Sans"').style('fill', '#3a3a3a');
    a.selectAll('line').attr('stroke', '#444');
  });

  const cx = (left + right) / 2;
  svg.append('text').attr('x', cx).attr('y', titleY).attr('text-anchor', 'middle').text(title)
    .style('font-size', '19px').style('stroke', '#111').style('stroke-width', .45);
  svg.append('text').attr('x', cx).attr('y', 661).attr('text-anchor', 'middle').text('Meth_Diff(%)')
    .style('font-size', '18px');
  svg.append('text').attr('transform', `translate(${yLabelX},346) rotate(-90)`).attr('text-anchor', 'middle')
    .text('-Log10(p-value)').style('font-size', '19px');

  notes.forEach(([label, num], i) => {
    svg.append('text').attr('x', noteX).attr('y', noteY + i * 20.2).text(label).style('font-size', '12.5px');
    if (num) svg.append('text').attr('x', numX).attr('y', noteY + i * 20.2 - 1).text(num)
      .style('font-size', '12.5px').style('font-family', '"Liberation Serif"');
  });
}

// hue runs from just below red up to magenta over the colour bar
const hueOf = (p, dom) => d3.scaleLinear().domain(dom).range([-12, 305])(p);
const pColor = (p, dom) => d3.hsl(hueOf(p, dom), 1, 0.5).formatHex();

const symbolFor = { c: d3.symbolCircle, s: d3.symbolSquare, t: d3.symbolTriangle };
function symbolPath(cat, r) {
  const size = cat === 'c' ? Math.PI * r * r : cat === 's' ? 3.6 * r * r : 3.4 * r * r;
  return d3.symbol(symbolFor[cat], size)();
}

function drawEnrichment({ left, right, top, bottom, xDomain, xTicks, terms, scores, pvals, hits, cats, pDomain, pTicks, hitLegend, catLegend, barX }) {
  const x = d3.scaleLinear().domain(xDomain).range([left, right]);
  const y = d3.scalePoint().domain(terms).range([top, bottom]).padding(1.4);
  const rScale = d3.scaleLinear().domain(hitLegend).range([3.9, 5.9, 7.8]);
  const g = svg.append('g');

  const ax = g.append('g').attr('transform', `translate(0,${bottom})`)
    .call(d3.axisBottom(x).tickValues(xTicks).tickSize(top - bottom).tickPadding(8));
  const ay = g.append('g').attr('transform', `translate(${left},0)`)
    .call(d3.axisLeft(y).tickSize(left - right).tickPadding(6));
  [ax, ay].forEach(a => {
    a.select('.domain').remove();
    a.selectAll('line').attr('stroke', '#d6d6d6').attr('stroke-width', 1.8);
    a.selectAll('text').style('font-family', '"Liberation Sans"');
  });
  ax.selectAll('text').style('font-size', '15px').style('fill', '#333');
  ay.selectAll('text').style('font-size', '16.85px').style('fill', '#333').attr('dy', '0.42em');

  g.append('rect').attr('x', left).attr('y', top).attr('width', right - left).attr('height', bottom - top)
    .attr('fill', 'none').attr('stroke', '#d0d0d0').attr('stroke-width', 2);

  g.selectAll('path.mark').data(terms).join('path').attr('class', 'mark')
    .attr('transform', (d, i) => `translate(${x(scores[i])},${y(d)})`)
    .attr('d', (d, i) => symbolPath(cats ? cats[i] : 'c', rScale(hits[i])))
    .attr('fill', (d, i) => pColor(pvals[i], pDomain));

  const cx = (left + right) / 2;
  svg.append('text').attr('x', cx).attr('y', top - 10).attr('text-anchor', 'middle').text('Top 30 of  Enrichment').style('font-size', '16.2px').style('white-space', 'pre');
  svg.append('text').attr('x', cx).attr('y', bottom + 40).attr('text-anchor', 'middle').text('Enrichment_score').style('font-size', '17px');

  // p-value bar
  const barW = 33.5, barTop = top + 13, barH = 178;
  const barY = d3.scaleLinear().domain(pDomain).range([barTop + barH, barTop]);
  const gid = 'rb' + Math.round(left);
  const grad = svg.append('defs').append('linearGradient').attr('id', gid).attr('x1', 0).attr('x2', 0).attr('y1', 1).attr('y2', 0);
  d3.range(0, 1.01, 0.05).forEach(t => grad.append('stop').attr('offset', `${t * 100}%`)
    .attr('stop-color', d3.hsl(-12 + 317 * t, 1, 0.5).formatHex()));
  svg.append('rect').attr('x', barX).attr('y', barTop).attr('width', barW).attr('height', barH)
    .attr('fill', `url(#${gid})`).attr('stroke', '#ccc').attr('stroke-width', 1.5);
  svg.append('text').attr('x', barX).attr('y', top + 3).text('p-value').style('font-size', '16.5px');
  pTicks.forEach(t => svg.append('text').attr('x', barX + 39).attr('y', barY(t) + 5).text(t).style('font-size', '15px').style('fill', '#333'));

  // ListHit legend
  svg.append('text').attr('x', barX).attr('y', top + 225).text('ListHit').style('font-size', '16.5px');
  hitLegend.forEach((v, i) => {
    const ly = top + 263 + i * 67;
    svg.append('circle').attr('cx', barX + 21).attr('cy', ly).attr('r', rScale(v)).attr('fill', '#000');
    svg.append('text').attr('x', barX + 39).attr('y', ly + 4).text(v).style('font-size', '14.5px').style('fill', '#333');
  });

  // Category legend
  if (catLegend) {
    svg.append('text').attr('x', barX).attr('y', top + 448).text('Category').style('font-size', '16.5px');
    catLegend.forEach(([c, label], i) => {
      const ly = top + 483 + i * 61;
      svg.append('path').attr('transform', `translate(${barX + 1},${ly})`).attr('d', symbolPath(c, 4.6)).attr('fill', '#000');
      svg.append('text').attr('x', barX + 14).attr('y', ly + 4).text(label).style('font-size', '14.8px').style('fill', '#333');
    });
  }
}

// panels
panelLetter('A', 2, 24); panelLetter('B', 479, 24); panelLetter('E', 995, 24); panelLetter('F', 1508, 24);
panelLetter('C', 2, 748); panelLetter('G', 985, 748); panelLetter('D', 2, 1463); panelLetter('H', 985, 1463);

drawHeatmap({ x0: 31.8, xMid: 206.4, x1: 382, y0: 57.7, y1: 638, rows: heatRowsA, zw: heatZwA, zz: heatZzA, labelX: [127, 316.6],
  bar: { x0: 390.7, x1: 408.5, y0: 57.7, y1: 230 }, barLabelX: 416, barFont: '14px', merges: mergesA, leaves: leafRowsA, dendroLeft: 10.8, dendroMax: 62, gid: 'hmA' });
drawHeatmap({ x0: 1054.3, xMid: 1241.4, x1: 1429.3, y0: 63, y1: 635.7, rows: heatRowsE, zw: heatZwE, zz: heatZzE, labelX: [1142, 1333.5],
  bar: { x0: 1434.9, x1: 1447.9, y0: 63, y1: 249.8 }, barLabelX: 1452.8, barFont: '13px', merges: mergesE, leaves: leafRowsE, dendroLeft: 1013.3, dendroMax: 123, gid: 'hmE' });

drawVolcano({ left: 508.7, right: 926.7, top: 68.7, bottom: 624.2, yDomain: [-5.2, 139.6], cut: 80,
  title: 'DMR: p-value < 0.05 & |Meth_Diff| > 80', titleY: 59,
  grayMass: [grayMassB, grayMassB2], grayPoints: grayPointsB, greenMass: greenMassB, greenPoints: greenPointsB, redMass: redMassB, redPoints: redPointsB,
  notes: [['Total DMR :', '1435'], ['Hyper DMR : 1037'], ['Hypo DMR : 398']], noteX: 623, noteY: 128, numX: 698, yLabelX: 474 });
drawVolcano({ left: 1524.1, right: 1941.5, top: 68.7, bottom: 624.2, yDomain: [-5.4, 136.5], cut: 60,
  title: 'DMP: p-value < 0.05 & |Meth_Diff| > 60', titleY: 59,
  grayMass: [grayMassF, grayMassF2], grayPoints: grayPointsF, greenPoints: greenPointsF, redPoints: redPointsF,
  notes: [['Total DMP :', '505'], ['Hyper DMP : 407'], ['Hypo DMP : 98']], noteX: 1638, noteY: 117, numX: 1712, yLabelX: 1488 });

const pTicksSmall = ['0.002', '0.004', '0.006', '0.008'];
drawEnrichment({ left: 444, right: 782, top: 729, bottom: 1364, xDomain: [0, 25], xTicks: [0, 5, 10, 15, 20, 25],
  terms: termsC, scores: scoresC, pvals: pvalsC, hits: hitsC, cats: catsC, pDomain: [.0003, .0081], pTicks: pTicksSmall,
  hitLegend: [2, 9, 29], catLegend: [['s', 'cellular_component'], ['t', 'molecular_function'], ['c', 'biological_process']], barX: 800 });
drawEnrichment({ left: 1435.5, right: 1773.5, top: 729, bottom: 1364, xDomain: [0, 30], xTicks: [0, 6, 12, 18, 24, 30],
  terms: termsG, scores: scoresG, pvals: pvalsG, hits: hitsG, cats: catsG, pDomain: [.0005, .0094], pTicks: pTicksSmall,
  hitLegend: [2, 5, 22], catLegend: [['t', 'molecular_function'], ['s', 'cellular_component'], ['c', 'biological_process']], barX: 1793 });
drawEnrichment({ left: 445, right: 785, top: 1449, bottom: 2083, xDomain: [0, 10], xTicks: [0, 2, 4, 6, 8, 10],
  terms: termsD, scores: scoresD, pvals: pvalsD, hits: hitsD, pDomain: [.0073, .308], pTicks: ['0.1', '0.2', '0.3'],
  hitLegend: [2, 6, 15], barX: 803 });
drawEnrichment({ left: 1439, right: 1778, top: 1449, bottom: 2083, xDomain: [0, 10], xTicks: [0, 2, 4, 6, 8, 10],
  terms: termsH, scores: scoresH, pvals: pvalsH, hits: hitsH, pDomain: [.0025, .322], pTicks: ['0.1', '0.2', '0.3'],
  hitLegend: [1, 4, 9], barX: 1795 });
</script>
</body>
</html>
